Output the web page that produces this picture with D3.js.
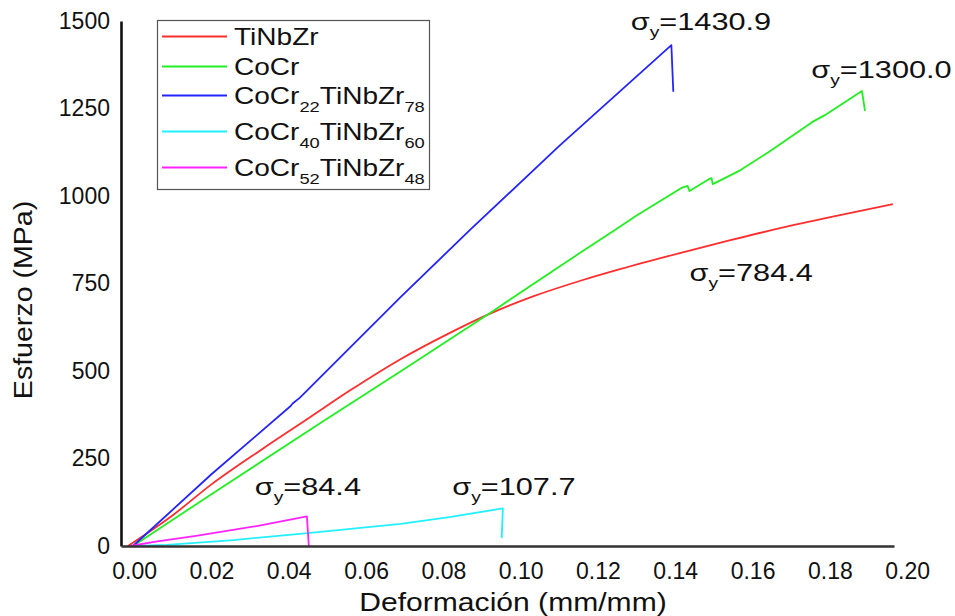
<!DOCTYPE html>
<html>
<head>
<meta charset="utf-8">
<script src="https://cdn.jsdelivr.net/npm/d3@7"></script>
<style>
  html, body { margin: 0; padding: 0; background: #fff; }
  svg { display: block; font-family: "Liberation Sans", Arial, sans-serif; }
</style>
</head>
<body>
<svg id="chart" width="955" height="616"></svg>
<script>
// ---------- data (strain mm/mm, stress MPa) ----------
const seriesNames = ["TiNbZr", "CoCr", "CoCr22TiNbZr78", "CoCr40TiNbZr60", "CoCr52TiNbZr48"];
const legendParts = [
  [["TiNbZr", false]],
  [["CoCr", false]],
  [["CoCr", false], ["22", true], ["TiNbZr", false], ["78", true]],
  [["CoCr", false], ["40", true], ["TiNbZr", false], ["60", true]],
  [["CoCr", false], ["52", true], ["TiNbZr", false], ["48", true]]
];
const seriesColors = ["#ff2e2e", "#22ee22", "#2424ff", "#22f0ff", "#ff22ff"];

const tinbzrStrain = [-0.0016, 0.0100, 0.0200, 0.0330, 0.0455, 0.0558, 0.0688, 0.0817, 0.0921, 0.1032, 0.1161, 0.1257, 0.1412, 0.1540, 0.1671, 0.1820, 0.1963];
const tinbzrStress = [0, 88, 176, 276, 368, 444, 533, 609, 664, 713, 760, 791, 837, 873, 908, 944, 977];

const cocrStrain = [-0.0003, 0.0200, 0.0494, 0.0690, 0.0921, 0.1157, 0.1244, 0.1300, 0.1416, 0.1432, 0.1437, 0.1489, 0.1494, 0.1497, 0.1564, 0.1642, 0.1754, 0.1787, 0.1883, 0.1891];
const cocrStress = [0, 148, 360, 499, 666, 840, 903, 944, 1023, 1029, 1014, 1049, 1051, 1034, 1071, 1126, 1211, 1231, 1300, 1243];

const cocr22Strain = [-0.0003, 0.0200, 0.0405, 0.0410, 0.0429, 0.0690, 0.0869, 0.1100, 0.1390, 0.1395];
const cocr22Stress = [0, 205, 400, 407, 424, 712, 903, 1143, 1430.9, 1298];

const cocr40Strain = [0, 0.0085, 0.0257, 0.0449, 0.0690, 0.0820, 0.0954, 0.0951];
const cocr40Stress = [0, 3, 17, 37, 63, 83, 107.7, 23];

const cocr52Strain = [-0.0010, 0.0060, 0.0160, 0.0317, 0.0447, 0.0452];
const cocr52Stress = [0, 13, 29, 57, 84.4, 0];

const allStrain = [tinbzrStrain, cocrStrain, cocr22Strain, cocr40Strain, cocr52Strain];
const allStress = [tinbzrStress, cocrStress, cocr22Stress, cocr40Stress, cocr52Stress];

// yield annotations: anchor (left, baseline) in data units and value text
const annotValues = ["784.4", "1300.0", "1430.9", "107.7", "84.4"];
const annotStrain = [0.1437, 0.1752, 0.1285, 0.0823, 0.0312];
const annotStress = [757, 1337, 1474, 146, 146];

const xTicks = [0, 0.02, 0.04, 0.06, 0.08, 0.10, 0.12, 0.14, 0.16, 0.18, 0.20];
const yTicks = [0, 250, 500, 750, 1000, 1250, 1500];
const xTitle = "Deformación (mm/mm)";
const yTitle = "Esfuerzo (MPa)";

// ---------- drawing ----------
const svg = d3.select("#chart");
const x = d3.scaleLinear().domain([-0.0034, 0.1966]).range([121, 894]);
const y = d3.scaleLinear().domain([0, 1500]).range([546, 21]);

const line = d3.line().x(d => x(d[0])).y(d => y(d[1]));

const seriesData = seriesNames.map((n, i) => allStrain[i].map((s, j) => [s, allStress[i][j]]));

svg.append("g").selectAll("path").data(seriesData).join("path")
  .attr("d", (d, i) => i === 0 ? line.curve(d3.curveMonotoneX)(d) : line.curve(d3.curveLinear)(d))
  .attr("fill", "none")
  .attr("stroke", (d, i) => seriesColors[i])
  .attr("stroke-width", 1.8)
  .attr("stroke-linejoin", "round");

// axes
const yAxis = d3.axisLeft(y).tickValues(yTicks).tickFormat(d3.format("d")).tickSize(0).tickSizeOuter(0).tickPadding(11);
const gy = svg.append("g").attr("transform", "translate(121,0)").call(yAxis);
gy.select(".domain").attr("stroke", "#111").attr("stroke-width", 2.6);
gy.selectAll("text").attr("font-size", 23).attr("fill", "#111").attr("font-family", "Liberation Sans, Arial, sans-serif");

const xAxis = d3.axisBottom(x).tickValues(xTicks).tickFormat(d3.format(".2f")).tickSize(0).tickSizeOuter(0).tickPadding(17);
const gx = svg.append("g").attr("transform", "translate(0,546)").call(xAxis);
gx.select(".domain").attr("stroke", "#333").attr("stroke-width", 2.6);
gx.selectAll("text").attr("font-size", 23).attr("fill", "#111").attr("font-family", "Liberation Sans, Arial, sans-serif");

// axis titles
svg.append("text")
  .attr("transform", "translate(513,611) scale(1.18,1)")
  .attr("text-anchor", "middle")
  .attr("font-size", 25.5)
  .attr("fill", "#111")
  .text(xTitle);

svg.append("text")
  .attr("transform", "translate(32,300) rotate(-90) scale(1.12,1)")
  .attr("text-anchor", "middle")
  .attr("font-size", 25.5)
  .attr("fill", "#111")
  .text(yTitle);

// legend
const lg = svg.append("g");
lg.append("rect").attr("x", 157.5).attr("y", 20.5).attr("width", 272).attr("height", 169)
  .attr("fill", "#fff").attr("stroke", "#555").attr("stroke-width", 1.2);
const legendBase = [45, 75, 104, 140, 176];
legendParts.forEach((parts, i) => {
  lg.append("line").attr("x1", 162).attr("x2", 227)
    .attr("y1", legendBase[i] - 8.5).attr("y2", legendBase[i] - 8.5)
    .attr("stroke", seriesColors[i]).attr("stroke-width", 1.8);
  const t = lg.append("text")
    .attr("transform", `translate(234,${legendBase[i]}) scale(1.22,1)`)
    .attr("font-size", 23).attr("fill", "#111");
  let shifted = false;
  parts.forEach(([txt, sub]) => {
    const ts = t.append("tspan").text(txt);
    if (sub) { ts.attr("font-size", 15).attr("dy", shifted ? 0 : 8); shifted = true; }
    else { if (shifted) { ts.attr("dy", -8); shifted = false; } }
  });
});

// annotations
annotValues.forEach((v, i) => {
  const t = svg.append("text")
    .attr("transform", `translate(${x(annotStrain[i])},${y(annotStress[i])}) scale(1.28,1)`)
    .attr("font-size", 24).attr("fill", "#111");
  t.append("tspan").text("σ");
  t.append("tspan").attr("font-size", 15).attr("dy", 7).text("y");
  t.append("tspan").attr("dy", -7).text("=" + v);
});
</script>
</body>
</html>
